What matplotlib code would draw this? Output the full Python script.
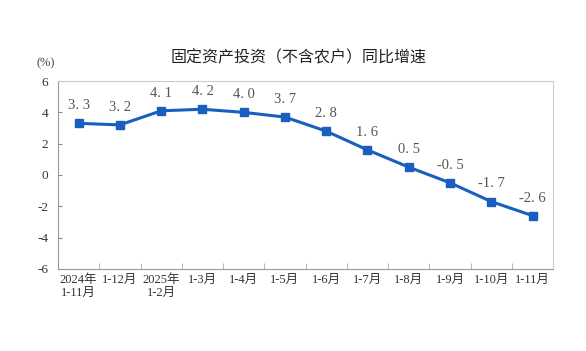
import numpy as np
import matplotlib.pyplot as plt

# 数据
categories = ['2024年\n1-11月', '1-12月', '2025年\n1-2月', '1-3月', '1-4月', '1-5月',
              '1-6月', '1-7月', '1-8月', '1-9月', '1-10月', '1-11月']
values = [3.3, 3.2, 4.1, 4.2, 4.0, 3.7, 2.8, 1.6, 0.5, -0.5, -1.7, -2.6]
yticks = [-6, -4, -2, 0, 2, 4, 6]

plt.rcParams['font.family'] = ['Liberation Serif', 'Noto Sans CJK SC']

fig = plt.figure(figsize=(5.86, 3.51), dpi=100)
ax = fig.add_axes([0.099, 0.234, 0.845, 0.535])

x = np.arange(len(categories))
line_color = '#1a5fbf'
ax.plot(x, values, color=line_color, linewidth=2.2, marker='s', markersize=6,
        markerfacecolor=line_color, markeredgecolor=line_color)

for xi, v in zip(x, values):
    ax.annotate(f'{v:.1f}'.replace('.', '. '), (xi, v), xytext=(0, 8),
                textcoords='offset points', ha='center', va='bottom',
                fontsize=10.5, color='#555555')

ax.set_xlim(-0.5, len(categories) - 0.5)
ax.set_ylim(-6, 6)
ax.set_yticks(yticks)
ax.set_yticklabels([str(t) for t in yticks], fontsize=9.5, color='#333333')

ax.set_xticks(x)
ax.set_xticklabels(categories, fontsize=9, color='#333333', linespacing=1.05)
ax.set_xticks(np.arange(0.5, len(categories) - 0.5, 1), minor=True)
ax.tick_params(axis='x', which='major', length=0, pad=4)
ax.tick_params(axis='x', which='minor', length=4, direction='in', color='#aaaaaa')
ax.tick_params(axis='y', length=3, direction='in', color='#888888', pad=7)

for side in ['left', 'bottom']:
    ax.spines[side].set_color('#999999')
for side in ['top', 'right']:
    ax.spines[side].set_color('#cccccc')
for s in ax.spines.values():
    s.set_linewidth(0.8)

fig.text(0.509, 0.836, '固定资产投资（不含农户）同比增速', ha='center', va='center',
         fontsize=11.5, family=['Noto Sans CJK SC'], fontweight='medium',
         color='#222222')
fig.text(0.078, 0.82, '(%)', ha='center', va='center', fontsize=9, color='#444444')

fig.savefig('out.png', dpi=100)
